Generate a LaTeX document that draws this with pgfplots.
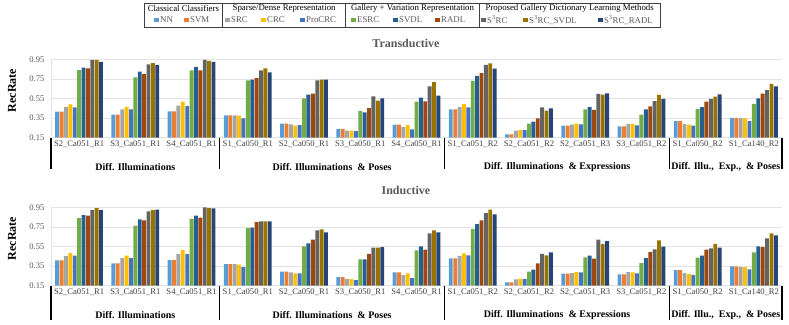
\documentclass[border=0pt]{standalone}
\usepackage{pgfplots}
\pgfplotsset{compat=1.18}
\usepackage{pgfplotstable}
\usepackage{fontspec}
\setmainfont{Liberation Serif}

\definecolor{cNN}{HTML}{5B9BD5}
\definecolor{cSVM}{HTML}{ED7D31}
\definecolor{cSRC}{HTML}{A5A5A5}
\definecolor{cCRC}{HTML}{FFC000}
\definecolor{cPro}{HTML}{4472C4}
\definecolor{cESRC}{HTML}{70AD47}
\definecolor{cSVDL}{HTML}{255E91}
\definecolor{cRADL}{HTML}{9E480E}
\definecolor{cS3}{HTML}{636363}
\definecolor{cS3S}{HTML}{997300}
\definecolor{cS3R}{HTML}{264478}
\definecolor{gridgray}{HTML}{E3E3E3}
\definecolor{tickgray}{HTML}{595959}
\definecolor{labgray}{HTML}{404040}

% Transductive
\pgfplotstableread{
x NN SVM SRC CRC Pro ESRC SVDL RADL S3 S3S S3R
0 0.415 0.415 0.463 0.490 0.460 0.840 0.865 0.858 0.943 0.943 0.923
1 0.385 0.385 0.440 0.463 0.440 0.766 0.824 0.800 0.899 0.912 0.892
2 0.419 0.419 0.477 0.518 0.473 0.838 0.872 0.838 0.945 0.933 0.923
3 0.378 0.378 0.378 0.375 0.347 0.735 0.742 0.759 0.838 0.858 0.817
4 0.293 0.293 0.286 0.272 0.279 0.552 0.589 0.600 0.735 0.742 0.742
5 0.238 0.238 0.221 0.221 0.218 0.422 0.409 0.453 0.572 0.528 0.552
6 0.283 0.283 0.259 0.279 0.235 0.518 0.558 0.521 0.674 0.718 0.579
7 0.440 0.440 0.463 0.494 0.460 0.729 0.780 0.810 0.892 0.909 0.855
8 0.184 0.184 0.221 0.228 0.228 0.293 0.313 0.347 0.460 0.426 0.450
9 0.272 0.272 0.283 0.293 0.286 0.440 0.463 0.433 0.596 0.589 0.603
10 0.266 0.266 0.290 0.290 0.276 0.385 0.440 0.470 0.524 0.586 0.545
11 0.320 0.320 0.290 0.283 0.272 0.443 0.463 0.518 0.545 0.569 0.593
12 0.350 0.350 0.350 0.347 0.320 0.494 0.552 0.600 0.636 0.698 0.674
}\tabT

% Inductive
\pgfplotstableread{
x NN SVM SRC CRC Pro ESRC SVDL RADL S3 S3S S3R
0 0.409 0.409 0.453 0.483 0.456 0.840 0.871 0.864 0.922 0.942 0.922
1 0.378 0.378 0.432 0.456 0.432 0.762 0.827 0.816 0.908 0.922 0.925
2 0.412 0.412 0.473 0.514 0.473 0.833 0.864 0.844 0.950 0.942 0.939
3 0.371 0.371 0.371 0.364 0.340 0.738 0.742 0.799 0.806 0.806 0.806
4 0.293 0.293 0.286 0.276 0.276 0.551 0.582 0.619 0.714 0.725 0.694
5 0.238 0.238 0.218 0.218 0.208 0.419 0.419 0.476 0.538 0.538 0.544
6 0.286 0.286 0.259 0.276 0.228 0.510 0.551 0.517 0.684 0.714 0.694
7 0.429 0.429 0.453 0.480 0.459 0.728 0.779 0.816 0.891 0.925 0.878
8 0.184 0.184 0.215 0.221 0.218 0.293 0.313 0.378 0.476 0.459 0.490
9 0.272 0.272 0.279 0.289 0.286 0.439 0.456 0.425 0.619 0.575 0.606
10 0.266 0.266 0.289 0.286 0.276 0.381 0.432 0.493 0.520 0.612 0.548
11 0.310 0.310 0.279 0.269 0.259 0.436 0.456 0.517 0.531 0.578 0.538
12 0.347 0.347 0.340 0.340 0.317 0.490 0.551 0.544 0.633 0.684 0.663
}\tabI

\pgfplotsset{
  ybar legend/.style={/pgfplots/legend image code/.code={%
      \fill[##1,draw=none] (0pt,-2.2pt) rectangle (4.4pt,2.2pt);
      \path (0pt,0pt) -- (6pt,0pt);}},
  common/.style={
    scale only axis, width=731pt, height=78.4pt,
    xmin=-0.5, xmax=12.5, ymin=0.15, ymax=0.95,
    ybar, bar width=0.069,
    clip=false,
    axis x line*=bottom, axis y line*=left,
    axis line style={draw=gridgray, line width=0.6pt},
    ymajorgrids, grid style={draw=gridgray, line width=0.6pt},
    major tick length=0pt,
    ytick={0.15,0.35,0.55,0.75,0.95},
    yticklabels={0.15,0.35,0.55,0.75,0.95},
    yticklabel style={font=\fontsize{8.6}{10}\selectfont, text=tickgray, xshift=-3pt},
    xtick={0,...,12},
    xticklabels={S2\_Ca051\_R1,S3\_Ca051\_R1,S4\_Ca051\_R1,S1\_Ca050\_R1,S2\_Ca050\_R1,S3\_Ca050\_R1,S4\_Ca050\_R1,S1\_Ca051\_R2,S2\_Ca051\_R2,S2\_Ca051\_R3,S3\_Ca051\_R2,S1\_Ca050\_R2,S1\_Ca140\_R2},
    xticklabel style={font=\fontsize{8.6}{10}\selectfont, text=labgray, yshift=0pt},
    ylabel={RecRate},
    ylabel style={font=\bfseries\fontsize{12}{14}\selectfont, at={(axis description cs:-0.0534,0.6)}, anchor=center},
    title style={font=\bfseries\fontsize{12}{14}\selectfont, text=tickgray, anchor=center},
  },
  pb/.style={draw=none, fill=#1},
}

\newcommand{\bars}[1]{%
  \addplot[pb=cNN, bar shift=-0.390] table[x=x,y=NN]{#1};
  \addplot[pb=cSVM, bar shift=-0.312] table[x=x,y=SVM]{#1};
  \addplot[pb=cSRC, bar shift=-0.234] table[x=x,y=SRC]{#1};
  \addplot[pb=cCRC, bar shift=-0.156] table[x=x,y=CRC]{#1};
  \addplot[pb=cPro, bar shift=-0.078] table[x=x,y=Pro]{#1};
  \addplot[pb=cESRC, bar shift=0] table[x=x,y=ESRC]{#1};
  \addplot[pb=cSVDL, bar shift=0.078] table[x=x,y=SVDL]{#1};
  \addplot[pb=cRADL, bar shift=0.156] table[x=x,y=RADL]{#1};
  \addplot[pb=cS3, bar shift=0.234] table[x=x,y=S3]{#1};
  \addplot[pb=cS3S, bar shift=0.312] table[x=x,y=S3S]{#1};
  \addplot[pb=cS3R, bar shift=0.390] table[x=x,y=S3R]{#1};
}

\newcommand{\decor}[1]{%
  \draw[black, line width=1.1pt] (axis cs:-0.5,0.15) -- ++(0pt,-#1);
  \draw[black, line width=1.1pt] (axis cs:2.5,0.15) -- ++(0pt,-#1);
  \draw[black, line width=1.1pt] (axis cs:6.5,0.15) -- ++(0pt,-#1);
  \draw[black, line width=1.1pt] (axis cs:10.5,0.15) -- ++(0pt,-#1);
  \draw[black, line width=1.1pt] (axis cs:12.5,0.15) -- ++(0pt,-#1);
  \node[font=\bfseries\fontsize{10}{12}\selectfont, yshift=-29pt] at (axis cs:1,0.15) {Diff. Illuminations};
  \node[font=\bfseries\fontsize{10}{12}\selectfont, yshift=-29pt] at (axis cs:4.5,0.15) {Diff. Illuminations\ \ \& Poses};
  \node[font=\bfseries\fontsize{10}{12}\selectfont, yshift=-29pt] at (axis cs:8.5,0.15) {Diff. Illuminations\ \ \& Expressions};
  \node[font=\bfseries\fontsize{10}{12}\selectfont, yshift=-29pt] at (axis cs:11.5,0.15) {Diff. Illu.,\ \ Exp.,\ \ \& Poses};
}

\begin{document}
\begin{tikzpicture}
\useasboundingbox (0,0) rectangle (789pt,324pt);
\begin{axis}[common, at={(51pt,186.3pt)}, anchor=south west,
  title={Transductive},
  title style={at={(axis description cs:0.4856,1.13)}},
  legend columns=11,
  legend style={at={(axis description cs:0.1409,1.501)}, anchor=west,
    draw=none, fill=none, inner sep=0pt, column sep=0pt,
    nodes={inner sep=0pt, text=tickgray, font=\fontsize{8.8}{10}\selectfont}},
  legend entries={{\makebox[24pt][l]{NN}},{\makebox[35pt][l]{SVM}},{\makebox[30pt][l]{SRC}},{\makebox[33pt][l]{CRC}},{\makebox[45pt][l]{ProCRC}},{\makebox[36pt][l]{ESRC}},{\makebox[36pt][l]{SVDL}},{\makebox[40pt][l]{RADL}},{\makebox[36pt][l]{S\textsuperscript{3}RC}},{\makebox[69pt][l]{S\textsuperscript{3}RC\_SVDL}},{\makebox[56pt][l]{S\textsuperscript{3}RC\_RADL}}},
]
\bars{\tabT}
\decor{31pt}
\end{axis}
\begin{axis}[common, at={(51pt,38.3pt)}, anchor=south west,
  title={Inductive},
  title style={at={(axis description cs:0.4856,1.145)}},
]
\bars{\tabI}
\decor{34pt}
\end{axis}
% legend frame and group headings
\draw[black!75, line width=0.6pt] (144pt,321pt) rectangle (660pt,297pt);
\draw[black!75, line width=0.6pt] (222.7pt,321pt) -- (222.7pt,297pt);
\draw[black!75, line width=0.6pt] (345.5pt,321pt) -- (345.5pt,297pt);
\draw[black!75, line width=0.6pt] (479.5pt,321pt) -- (479.5pt,297pt);
\begin{scope}[every node/.style={font=\fontsize{8.8}{10}\selectfont, inner sep=0pt}]
\node at (183.4pt,315.5pt) {Classical Classifiers};
\node at (284.1pt,315.5pt) {Sparse/Dense Representation};
\node at (412.5pt,315.5pt) {Gallery + Variation Representation};
\node at (569.7pt,315.5pt) {Proposed Gallery Dictionary Learning Methods};
\end{scope}
\end{tikzpicture}
\end{document}
